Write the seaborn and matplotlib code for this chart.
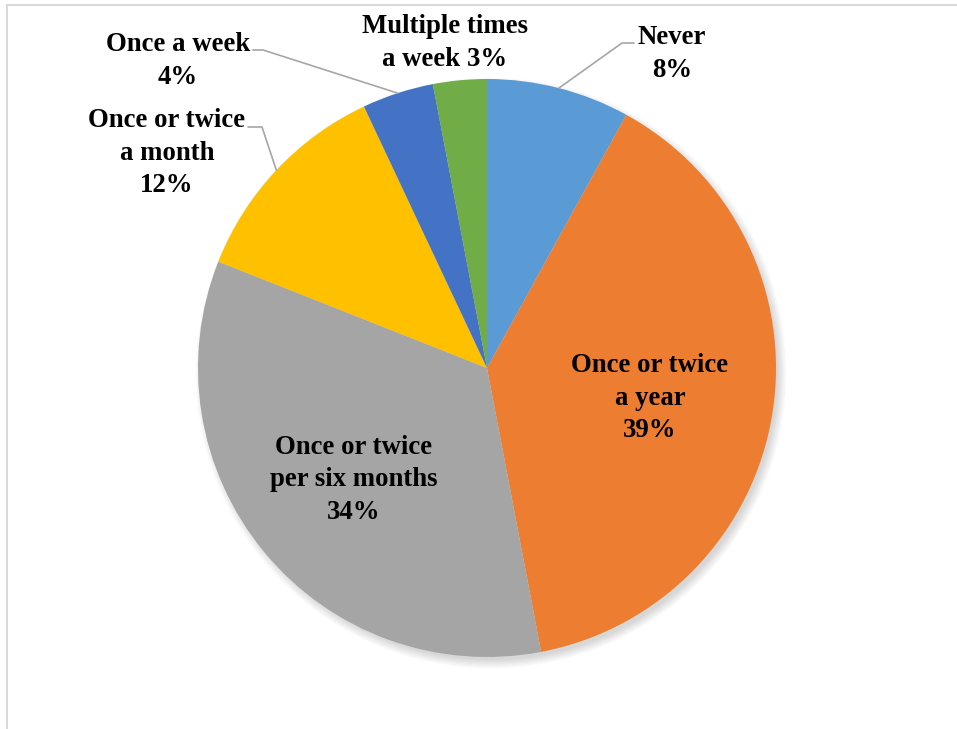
import numpy as np
import seaborn as sns
import matplotlib.pyplot as plt
from matplotlib.lines import Line2D
from matplotlib.patches import Circle

# Data
categories = ['Never', 'Once or twice\na year', 'Once or twice\nper six months',
              'Once or twice\na month', 'Once a week', 'Multiple times\na week']
shares = [8, 39, 34, 12, 4, 3]
colors = ['#5B9BD5', '#ED7D31', '#A5A5A5', '#FFC000', '#4472C4', '#70AD47']

# label text (name + percent) as Excel shows it
label_texts = ['Never\n8%', 'Once or twice\na year\n39%', 'Once or twice\nper six months\n34%',
               'Once or twice\na month\n12%', 'Once a week\n4%', 'Multiple times\na week 3%']

sns.set_theme(style='white')
plt.rcParams['font.family'] = ['Liberation Serif', 'DejaVu Serif']

W, H = 957, 729
fig = plt.figure(figsize=(W / 100, H / 100), dpi=100)
ax = fig.add_axes([0, 0, 1, 1])

cx, cy, r = 487, H - 368, 289

# soft shadow behind the pie (offset to lower right)
for i in range(8):
    ax.add_patch(Circle((cx + 4, cy - 5), r - 2 + i * 1.2, color='black',
                        alpha=0.02, lw=0, zorder=0))

wedges, _ = ax.pie(shares, colors=colors, startangle=90, counterclock=False,
                   center=(cx, cy), radius=r, frame=True,
                   wedgeprops=dict(linewidth=0, zorder=2))
ax.set_xlim(0, W)
ax.set_ylim(0, H)
ax.set_aspect('equal')
ax.axis('off')

# label positions (pixel coords, top-left origin) and leader elbows
label_pos = [(672, 54), (650, 398), (354, 480), (167, 153), (178, 61), (445, 43)]
leaders = {0: [(622, 43), (634, 43)],
           3: [(262, 127), (248, 127)],
           4: [(263, 50), (253, 50)]}

for i, (w, txt) in enumerate(zip(wedges, label_texts)):
    x, y = label_pos[i]
    ax.text(x, H - y, txt, ha='center', va='center', fontsize=19.3,
            fontweight='bold', color='black', linespacing=1.37, zorder=5)
    if i in leaders:
        mid = np.deg2rad((w.theta1 + w.theta2) / 2)
        px, py = cx + r * np.cos(mid), cy + r * np.sin(mid)
        pts = [(px, py)] + [(a, H - b) for a, b in leaders[i]]
        xs, ys = zip(*pts)
        ax.plot(xs, ys, color='#A6A6A6', lw=1.2, zorder=3)

# light chart-area border
fig.add_artist(Line2D([7 / W, 1], [1 - 5 / H, 1 - 5 / H], color='#D9D9D9', lw=1.5))
fig.add_artist(Line2D([7 / W, 7 / W], [0, 1 - 5 / H], color='#D9D9D9', lw=1.5))

fig.savefig('out.png', dpi=100)
